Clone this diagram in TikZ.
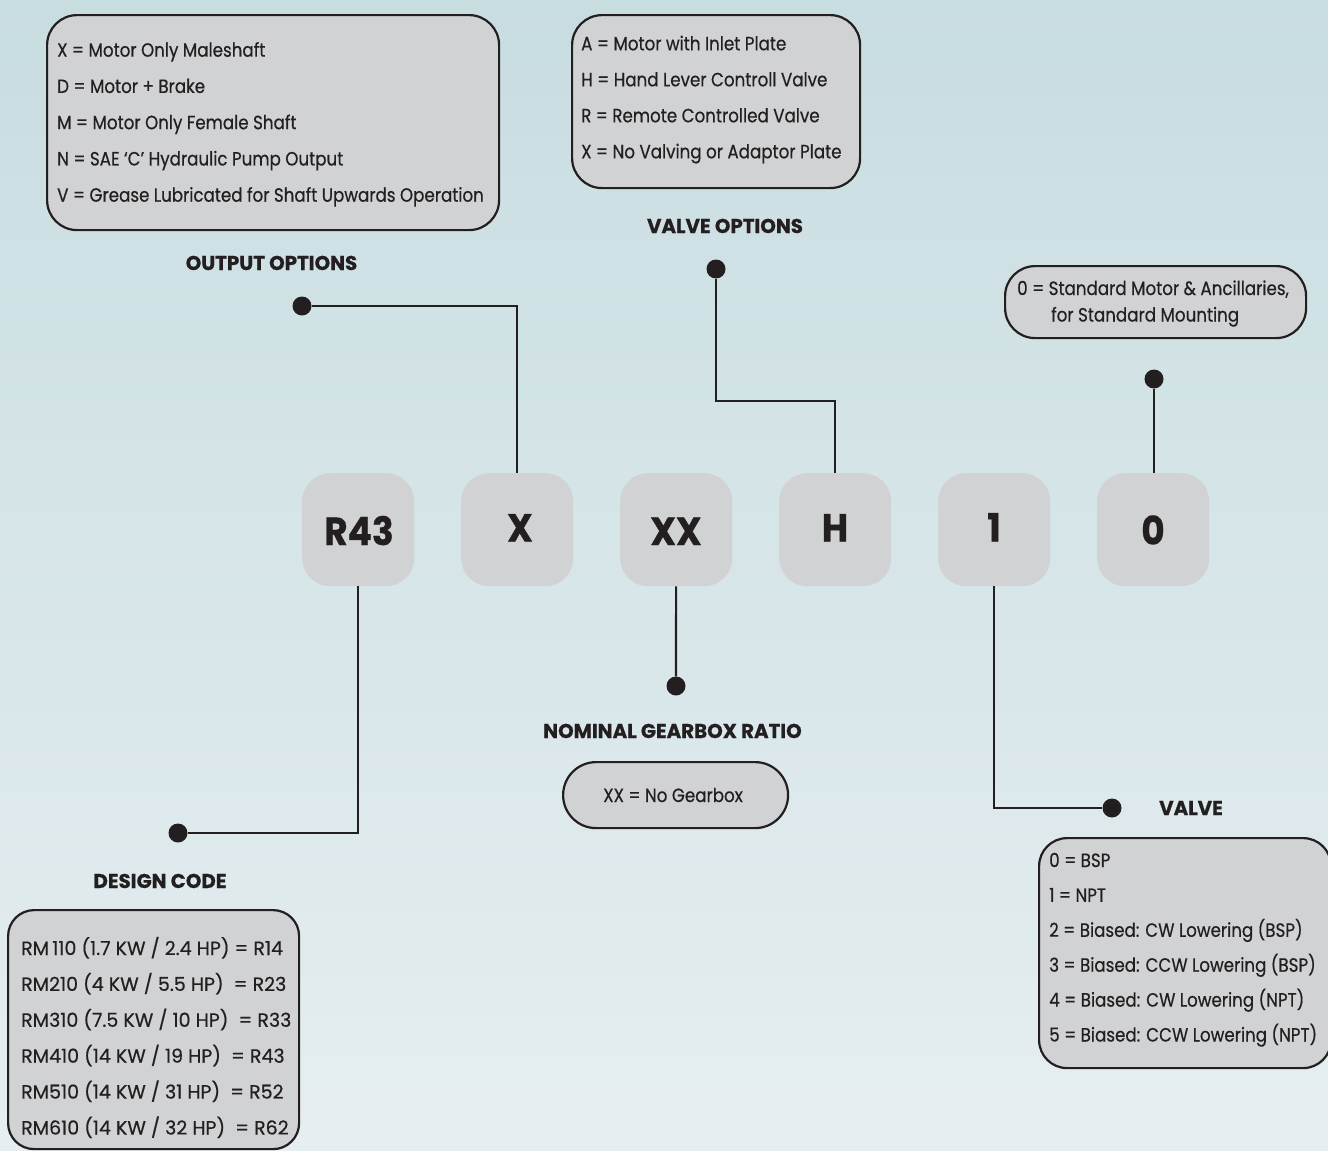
\documentclass[tikz,border=0pt]{standalone}
\usepackage{fontspec}
\setmainfont{Poppins}[FakeStretch=0.87, FakeBold=0.5]
\newfontfamily\headfont{Poppins}[FakeStretch=0.99, FakeBold=0.7]
\newfontfamily\codefont{Poppins}[FakeStretch=0.92, FakeBold=0.7]
\newfontfamily\designfont{Poppins}[FakeStretch=0.99, FakeBold=0.5, Numbers=Monospaced]
\definecolor{ink}{HTML}{231F20}
\definecolor{boxgray}{HTML}{D1D2D4}
\definecolor{bgtop}{HTML}{C8DDE0}
\definecolor{bgbot}{HTML}{E6EEF1}
\begin{document}
\begin{tikzpicture}[x=1pt,y=-1pt,
  panel/.style={draw=ink, line width=2.2pt, fill=boxgray, rounded corners=30pt, anchor=north west, inner sep=0pt},
  codebox/.style={fill=boxgray, rounded corners=28pt, minimum width=112pt, minimum height=113pt, anchor=north west, inner sep=0pt},
  codetext/.style={font=\codefont\bfseries\fontsize{39}{41}\selectfont, text=ink, anchor=base, inner sep=0pt},
  item/.style={font=\fontsize{19.2}{22}\selectfont, text=ink, anchor=base west, inner sep=0pt},
  ditem/.style={font=\designfont\fontsize{19.2}{22}\selectfont, text=ink, anchor=base west, inner sep=0pt},
  head/.style={font=\headfont\bfseries\fontsize{20}{22}\selectfont, text=ink, anchor=base, inner sep=0pt},
  dot/.style={circle, fill=ink, inner sep=0pt, minimum size=19pt},
  wire/.style={draw=ink, line width=2.2pt}]
\useasboundingbox (0,0) rectangle (1328,1151);
\shade[top color=bgtop, bottom color=bgbot] (0,0) rectangle (1328,1151);

% ---------- option panels ----------
\node[panel, minimum width=452pt, minimum height=215pt] (outbox) at (46,14) {};
\foreach \t [count=\i] in {X = Motor Only Maleshaft, D = Motor + Brake, M = Motor Only Female Shaft, N = SAE ‘C’ Hydraulic Pump Output, V = Grease Lubricated for Shaft Upwards Operation}
  \node[item] (out\i) at (57,{56.7+36.25*(\i-1)}) {\t};

\node[panel, minimum width=288pt, minimum height=173pt] (valvebox) at (571,14) {};
\foreach \t [count=\i] in {A = Motor with Inlet Plate, H = Hand Lever Controll Valve, R = Remote Controlled Valve, X = No Valving or Adaptor Plate}
  \node[item] (vo\i) at (581,{50.3+36*(\i-1)}) {\t};

\node[panel, minimum width=301pt, minimum height=72pt] (stdbox) at (1004,265) {};
\node[item] (std1) at (1017,295) {0 = Standard Motor \& Ancillaries,};
\node[item] (std2) at (1051,321.5) {for Standard Mounting};

\node[panel, minimum width=291pt, minimum height=239pt, rounded corners=26pt] (designbox) at (7,909) {};
\foreach \t [count=\i] in {RM\,110 (1.7 KW / 2.4 HP) = R14, RM210 (4 KW / 5.5 HP)~ = R23, RM310 (7.5 KW / 10 HP)~ = R33, RM410 (14 KW / 19 HP)~ = R43, RM510 (14 KW / 31 HP)~ = R52, RM610 (14 KW / 32 HP)~ = R62}
  \node[ditem] (dc\i) at (21,{955+35.9*(\i-1)}) {\t};

\node[panel, minimum width=292pt, minimum height=230pt, rounded corners=28pt] (portbox) at (1038,837) {};
\foreach \t [count=\i] in {0 = BSP, 1 = NPT, 2 = Biased: CW Lowering (BSP), 3 = Biased: CCW Lowering (BSP), 4 = Biased: CW Lowering (NPT), 5 = Biased: CCW Lowering (NPT)}
  \node[item] (vp\i) at (1049,{867+34.9*(\i-1)}) {\t};

\node[panel, minimum width=225pt, minimum height=66pt, rounded corners=33pt] (gearbox) at (562,761) {};
\node[item, anchor=base] (gear1) at (673,802) {XX = No Gearbox};

% ---------- headings ----------
\node[head] (hOut) at (271.5,270) {OUTPUT OPTIONS};
\node[head] (hValve) at (725,233) {VALVE OPTIONS};
\node[head] (hGear) at (672.5,738) {NOMINAL GEARBOX RATIO};
\node[head] (hDesign) at (160,888) {DESIGN CODE};
\node[head] (hPort) at (1191,815) {VALVE};

% ---------- code boxes ----------
\node[codebox] (bR) at (302,473) {};
\node[codebox] (bX) at (461,473) {};
\node[codebox] (bXX) at (620,473) {};
\node[codebox] (bH) at (779,473) {};
\node[codebox] (b1) at (938,473) {};
\node[codebox] (bZero) at (1097,473) {};
\node[codetext] (tR) at (359,545) {R43};
\node[codetext] (tX) at (520,541.5) {X};
\node[codetext] (tXX) at (676,545) {XX};
\node[codetext] (tH) at (835,541.5) {H};
\node[codetext] (t1) at (994,541.5) {1};
\node[codetext] (tZero) at (1153,544.5) {0};

% ---------- dots ----------
\node[dot] (dOut) at (302,306) {};
\node[dot] (dValve) at (716,269) {};
\node[dot] (dStd) at (1154,379) {};
\node[dot] (dDesign) at (178,833) {};
\node[dot] (dGear) at (676,686) {};
\node[dot] (dPort) at (1112,808) {};

% ---------- connectors ----------
\draw[wire] (dOut) -| (bX);
\draw[wire] (dValve) |- (bH.north |- 0,401) -- (bH);
\draw[wire] (dStd) -- (dStd |- bZero.north);
\draw[wire] (bR) |- (dDesign);
\draw[wire] (bXX) -- (dGear);
\draw[wire] (b1) |- (dPort);
\end{tikzpicture}
\end{document}
